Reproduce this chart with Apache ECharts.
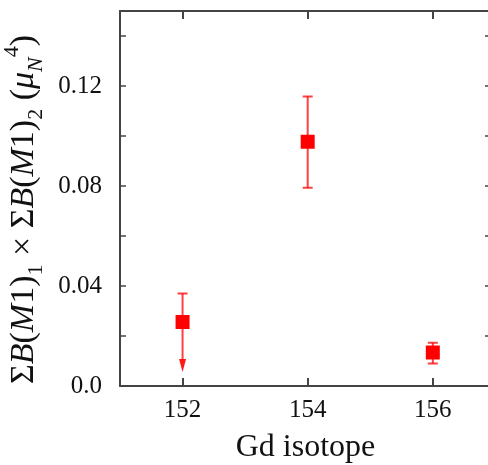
<!DOCTYPE html>
<html><head><meta charset="utf-8">
<script src="https://cdn.jsdelivr.net/npm/echarts@6/dist/echarts.min.js"></script>
<style>html,body{margin:0;padding:0;background:#fff}#c{width:488px;height:465px}</style>
</head><body><div id="c"></div>
<script>
const isotopes = [152, 154, 156];
const values = [0.0256, 0.0977, 0.0134];
const errHigh = [0.0370, 0.1158, 0.0173];
const errLow = [0.0056, 0.0793, 0.0090];
const upperLimit = [true, false, false];
const xTicks = [152, 154, 156];
const yLabels = [0, 0.04, 0.08, 0.12];
const yTicks = [0, 0.02, 0.04, 0.06, 0.08, 0.10, 0.12, 0.14];

const chart = echarts.init(document.getElementById('c'));
const F = '"Liberation Serif", "DejaVu Serif", serif';
const axisCol = '#444';
const red = '#ff0000';

const pts = isotopes.map((x, i) => [x, values[i], errLow[i], errHigh[i], upperLimit[i] ? 1 : 0]);

const xBase = {
  type: 'value', min: 151, max: 156.93,
  axisLine: {show: true, onZero: false, lineStyle: {color: axisCol, width: 2}},
  axisTick: {show: true, inside: true, length: 8, customValues: xTicks, lineStyle: {color: axisCol, width: 2}},
  splitLine: {show: false}
};
const yBase = {
  type: 'value', min: 0, max: 0.15,
  axisLine: {show: true, onZero: false, lineStyle: {color: axisCol, width: 2}},
  axisTick: {show: true, inside: true, length: 6, customValues: yTicks, lineStyle: {color: axisCol, width: 1.5}},
  splitLine: {show: false}
};

chart.setOption({
  animation: false,
  backgroundColor: '#fff',
  grid: {left: 120, top: 11, width: 371, height: 375, containLabel: false, outerBoundsMode: 'none'},
  xAxis: [
    Object.assign({}, xBase, {
      position: 'bottom',
      axisLabel: {show: true, customValues: xTicks, margin: 12, color: '#111', fontFamily: F, fontSize: 25},
      name: 'Gd isotope', nameLocation: 'middle', nameGap: 46,
      nameTextStyle: {color: '#111', fontFamily: F, fontSize: 32}
    }),
    Object.assign({}, xBase, {position: 'top', axisLabel: {show: false}})
  ],
  yAxis: [
    Object.assign({}, yBase, {
      position: 'left',
      axisLabel: {show: true, customValues: yLabels, margin: 18, color: '#111', fontFamily: F, fontSize: 25,
        formatter: v => v === 0 ? '0.0' : v.toFixed(2)},
      name: '{m|Σ}{i|B}{m|(}{i|M}{m|1)}{s|1}{m| × Σ}{i|B}{m|(}{i|M}{m|1)}{s|2}{m| (}{i|μ}{n|N}{p|4}{m|)}',
      nameLocation: 'middle', nameGap: 68, nameRotate: 90,
      nameTextStyle: {
        color: '#111', fontFamily: F, fontSize: 34, padding: [0, 22, 0, 0],
        rich: {
          m: {fontFamily: F, fontSize: 34, color: '#111', lineHeight: 46, verticalAlign: 'middle'},
          i: {fontFamily: F, fontSize: 34, fontStyle: 'italic', color: '#111', lineHeight: 46, verticalAlign: 'middle'},
          s: {fontFamily: F, fontSize: 22, color: '#111', lineHeight: 22, verticalAlign: 'bottom'},
          n: {fontFamily: F, fontSize: 22, fontStyle: 'italic', color: '#111', lineHeight: 22, verticalAlign: 'bottom'},
          p: {fontFamily: F, fontSize: 22, color: '#111', lineHeight: 28, verticalAlign: 'top'}
        }
      }
    }),
    Object.assign({}, yBase, {position: 'right', axisLabel: {show: false}})
  ],
  series: [
    {
      type: 'custom',
      xAxisIndex: 0, yAxisIndex: 0,
      data: pts,
      z: 2,
      renderItem: function (params, api) {
        const x = api.value(0);
        const hi = api.coord([x, api.value(3)]);
        const lo = api.coord([x, api.value(2)]);
        const lim = api.value(4) === 1;
        const cw = 5;
        const style = {stroke: red, lineWidth: 2, opacity: 0.75};
        const children = [
          {type: 'line', shape: {x1: hi[0], y1: hi[1], x2: lo[0], y2: lim ? lo[1] - 12 : lo[1]}, style: style},
          {type: 'line', shape: {x1: hi[0] - cw, y1: hi[1], x2: hi[0] + cw, y2: hi[1]}, style: style}
        ];
        if (lim) {
          children.push({type: 'polygon', shape: {points: [[lo[0] - 3.5, lo[1] - 13], [lo[0] + 3.5, lo[1] - 13], [lo[0], lo[1]]]},
            style: {fill: red, opacity: 0.9}});
        } else {
          children.push({type: 'line', shape: {x1: lo[0] - cw, y1: lo[1], x2: lo[0] + cw, y2: lo[1]}, style: style});
        }
        return {type: 'group', children: children};
      }
    },
    {
      type: 'scatter',
      xAxisIndex: 0, yAxisIndex: 0,
      data: pts.map(p => [p[0], p[1]]),
      symbol: 'rect', symbolSize: 14,
      itemStyle: {color: red, opacity: 1},
      z: 3
    }
  ]
});
</script></body></html>
